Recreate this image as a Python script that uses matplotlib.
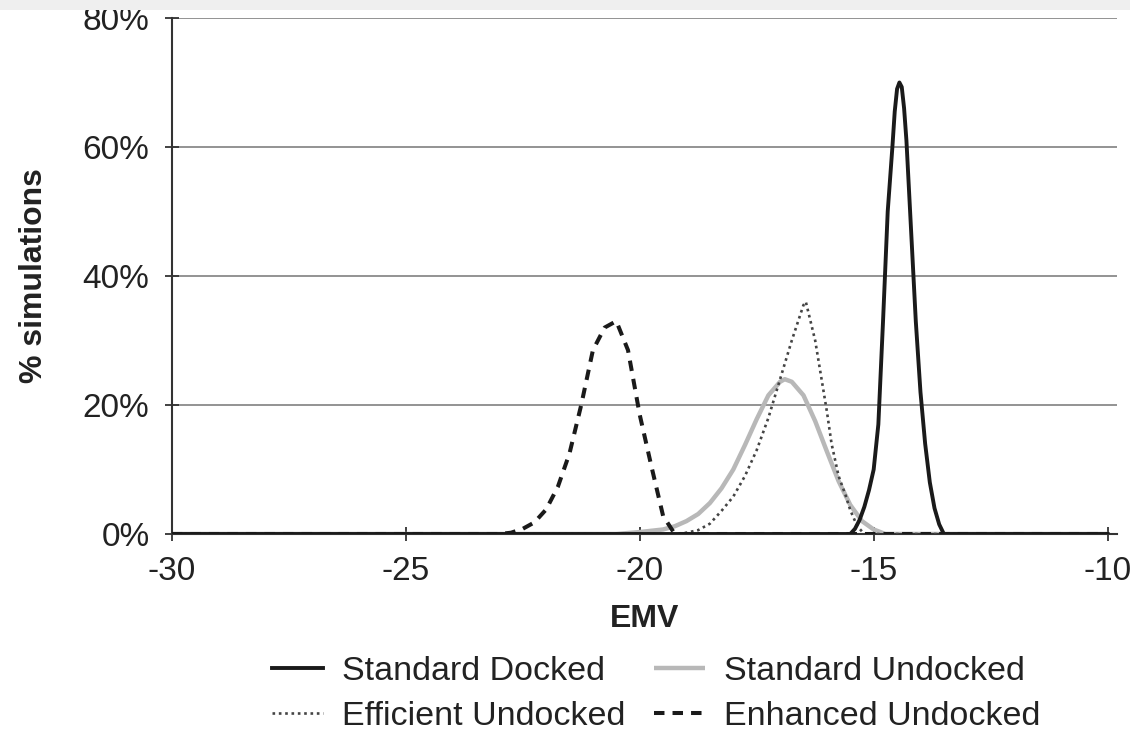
import matplotlib
matplotlib.use("Agg")
import matplotlib.pyplot as plt
from matplotlib.patches import Rectangle

plt.rcParams['font.family'] = ['Liberation Sans', 'DejaVu Sans']

# ---- data (EMV, % simulations) ----
docked_x = [-30, -15.6, -15.5, -15.4, -15.3, -15.2, -15.1, -15.0, -14.9, -14.8, -14.7,
            -14.6, -14.55, -14.5, -14.45, -14.4, -14.35, -14.3, -14.2, -14.1, -14.0,
            -13.9, -13.8, -13.7, -13.6, -13.5, -10]
docked_y = [0, 0, 0, 0.8, 2.2, 4.2, 6.8, 10, 17, 33, 50,
            60, 65.5, 69, 70, 69.3, 66, 61, 47, 33, 22,
            14, 8, 4, 1.5, 0, 0]

std_undocked_x = [-30, -20.5, -20.0, -19.5, -19.25, -19.0, -18.75, -18.5, -18.25, -18.0,
                  -17.75, -17.5, -17.25, -17.0, -16.9, -16.75, -16.5, -16.25, -16.0,
                  -15.75, -15.5, -15.25, -15.0, -14.75, -10]
std_undocked_y = [0, 0, 0.3, 0.7, 1.2, 2.0, 3.1, 4.8, 7.1, 10.0,
                  13.8, 17.8, 21.5, 23.6, 24.0, 23.6, 21.5, 17.5, 12.8,
                  8.2, 4.5, 2.0, 0.7, 0, 0]

efficient_x = [-30, -19.25, -19.0, -18.75, -18.5, -18.25, -18.0, -17.75, -17.5, -17.25,
               -17.0, -16.75, -16.5, -16.45, -16.25, -16.0, -15.9, -15.75, -15.6,
               -15.5, -15.35, -15.2, -10]
efficient_y = [0, 0, 0.2, 0.6, 1.6, 3.6, 5.8, 9.0, 13.0, 18.0,
               24.0, 30.0, 35.5, 36.0, 30.0, 19.0, 14.0, 9.0, 6.0,
               3.7, 1.2, 0, 0]

enhanced_x = [-30, -23.0, -22.75, -22.5, -22.25, -22.0, -21.75, -21.5, -21.25, -21.0,
              -20.75, -20.5, -20.25, -20.0, -19.75, -19.5, -19.25, -10]
enhanced_y = [0, 0, 0.2, 0.8, 1.8, 3.8, 7.3, 12.5, 20.0, 28.5,
              32.0, 33.0, 28.5, 18.5, 10.5, 2.8, 0, 0]

labels = ["Standard Docked", "Standard Undocked", "Efficient Undocked", "Enhanced Undocked"]
x_ticks = [-30, -25, -20, -15, -10]
y_ticks = [0, 20, 40, 60, 80]
y_ticklabels = ["0%", "20%", "40%", "60%", "80%"]

# ---- figure ----
fig = plt.figure(figsize=(11.3, 7.31), dpi=100)
fig.patches.append(Rectangle((0, 0.986), 1, 0.014, transform=fig.transFigure,
                             facecolor='#efefef', edgecolor='none', zorder=0))
ax = fig.add_axes([0.152, 0.2695, 0.8365, 0.7059])

ax.set_xlim(-30, -9.8)
ax.set_ylim(0, 80)

for yv in y_ticks[1:]:
    ax.axhline(yv, color='#8a8a8a', lw=1.3, zorder=1)

l_su, = ax.plot(std_undocked_x, std_undocked_y, color='#b8b8b8', lw=3.2, zorder=2,
                solid_capstyle='butt')
l_ef, = ax.plot(efficient_x, efficient_y, color='#444444', lw=1.9, ls=(0, (1, 1.4)), zorder=3)
l_en, = ax.plot(enhanced_x, enhanced_y, color='#1a1a1a', lw=2.9, ls=(0, (2.6, 2.0)), zorder=4)
l_sd, = ax.plot(docked_x, docked_y, color='#1a1a1a', lw=2.8, zorder=5)

for s in ['top', 'right']:
    ax.spines[s].set_visible(False)
for s in ['left', 'bottom']:
    ax.spines[s].set_color('#333333')
    ax.spines[s].set_linewidth(1.5)

ax.set_xticks(x_ticks)
ax.set_xticklabels([str(v) for v in x_ticks])
ax.set_yticks(y_ticks)
ax.set_yticklabels(y_ticklabels)
ax.tick_params(axis='both', direction='inout', length=10, width=1.3, color='#333333',
               labelsize=24, labelcolor='#222222')
ax.tick_params(axis='x', pad=11)
ax.tick_params(axis='y', pad=11)

ax.set_xlabel("EMV", fontsize=23, fontweight='bold', color='#222222', labelpad=12)
ax.set_ylabel("% simulations", fontsize=23, fontweight='bold', color='#222222', labelpad=24)

handles = [l_sd, l_ef, l_su, l_en]
hl = [labels[0], labels[2], labels[1], labels[3]]
fig.legend(handles, hl, loc='upper left', bbox_to_anchor=(272 / 1130, 1 - 656 / 731),
           ncol=2, frameon=False, fontsize=24.5, handlelength=1.5, handletextpad=0.55,
           columnspacing=0.85, labelspacing=0.4, borderpad=0, borderaxespad=0,
           labelcolor='#222222')

fig.savefig("out.png", dpi=100)
